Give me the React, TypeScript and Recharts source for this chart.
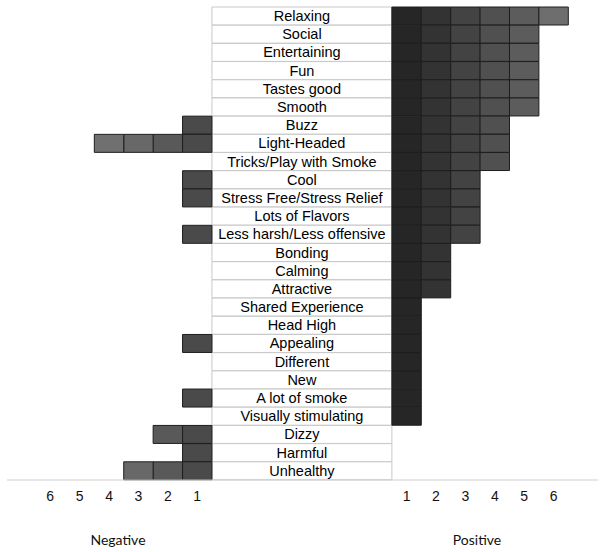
import React from "react";
import { BarChart, Bar, XAxis, YAxis, LabelList } from "recharts";

const categories = [
  "Relaxing", "Social", "Entertaining", "Fun", "Tastes good", "Smooth", "Buzz",
  "Light-Headed", "Tricks/Play with Smoke", "Cool", "Stress Free/Stress Relief",
  "Lots of Flavors", "Less harsh/Less offensive", "Bonding", "Calming", "Attractive",
  "Shared Experience", "Head High", "Appealing", "Different", "New", "A lot of smoke",
  "Visually stimulating", "Dizzy", "Harmful", "Unhealthy",
];
const positiveCounts = [6, 5, 5, 5, 5, 5, 4, 4, 4, 3, 3, 3, 3, 2, 2, 2, 1, 1, 1, 1, 1, 1, 1, 0, 0, 0];
const negativeCounts = [0, 0, 0, 0, 0, 0, 1, 4, 0, 1, 1, 0, 1, 0, 0, 0, 0, 0, 1, 0, 0, 1, 0, 2, 1, 3];
const tickLabels = [1, 2, 3, 4, 5, 6];

// width of the label column, in cell units
const LABEL_W = 6.12;
const POS_COLORS = ["#262626", "#333333", "#434343", "#505050", "#5c5c5c", "#6e6e6e"];
const NEG_COLORS = ["#4a4a4a", "#595959", "#686868", "#707070"];
const ARIAL = "'Liberation Sans', Arial, sans-serif";

const chartData = categories.map((name, i) => {
  const row: Record<string, any> = { name, label: LABEL_W };
  for (let k = 1; k <= 6; k++) row[`pos${k}`] = positiveCounts[i] >= k ? 1 : 0;
  for (let k = 1; k <= 4; k++) row[`neg${k}`] = negativeCounts[i] >= k ? -1 : 0;
  return row;
});

const ticks = [
  ...tickLabels.map((t) => -t + 0.5),
  ...tickLabels.map((t) => LABEL_W + t - 0.5),
];

const fmt = (v: number) => (v < 0 ? String(Math.round(-v + 0.5)) : String(Math.round(v - LABEL_W + 0.5)));

const RowLabel = (props: any) => {
  const { x, y, width, height, value } = props;
  return (
    <text
      x={x + width / 2}
      y={y + height / 2}
      textAnchor="middle"
      dominantBaseline="central"
      fill="#000"
      style={{ fontSize: 14.5, fontFamily: ARIAL }}
    >
      {value}
    </text>
  );
};

const App: React.FC = () => {
  return (
    <div style={{ position: "absolute", left: 0, top: 0, width: 604, height: 552, background: "#fff" }}>
      <BarChart
        width={604}
        height={552}
        data={chartData}
        layout="vertical"
        stackOffset="sign"
        barCategoryGap={0}
        margin={{ top: 7, right: 6, bottom: 42, left: 7 }}
      >
        <XAxis
          type="number"
          domain={[-6.97, 13.13]}
          ticks={ticks}
          tickFormatter={fmt}
          tickLine={false}
          tickMargin={5}
          axisLine={{ stroke: "#cfcfcf" }}
          height={30}
          interval={0}
          tick={{ fill: "#111", fontSize: 14, fontFamily: ARIAL }}
        />
        <YAxis type="category" dataKey="name" hide />
        <Bar dataKey="label" stackId="s" fill="#ffffff" stroke="#c8c8c8" isAnimationActive={false}>
          <LabelList dataKey="name" content={RowLabel} />
        </Bar>
        {POS_COLORS.map((c, i) => (
          <Bar key={`pos${i + 1}`} dataKey={`pos${i + 1}`} stackId="s" fill={c} stroke="#1e1e1e" isAnimationActive={false} />
        ))}
        {NEG_COLORS.map((c, i) => (
          <Bar key={`neg${i + 1}`} dataKey={`neg${i + 1}`} stackId="s" fill={c} stroke="#1e1e1e" isAnimationActive={false} />
        ))}
      </BarChart>
      <div style={{ position: "absolute", left: 118, top: 539, transform: "translate(-50%, -50%)", fontFamily: "Lato, sans-serif", fontSize: 14, color: "#111" }}>
        Negative
      </div>
      <div style={{ position: "absolute", left: 477, top: 539, transform: "translate(-50%, -50%)", fontFamily: "Lato, sans-serif", fontSize: 14, color: "#111" }}>
        Positive
      </div>
    </div>
  );
};

export default App;
